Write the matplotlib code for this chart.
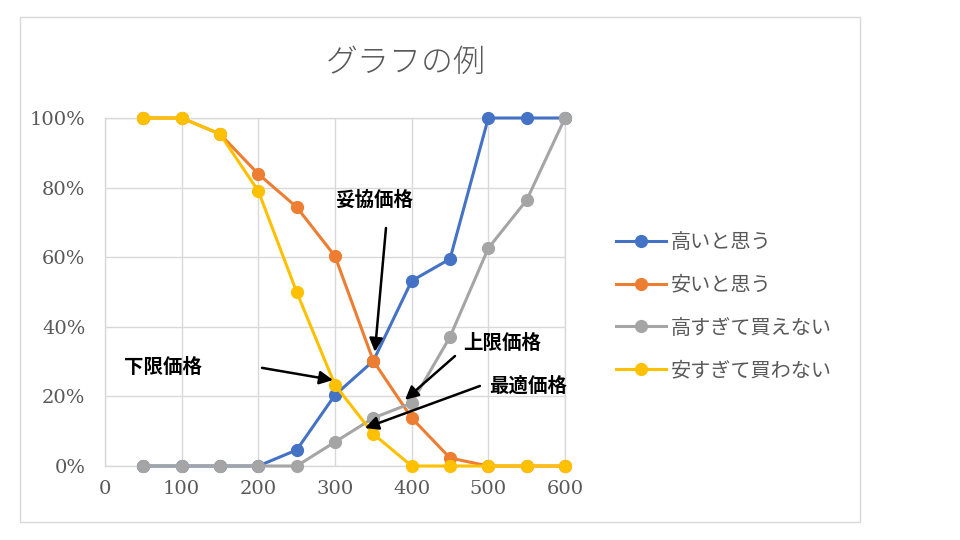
import matplotlib
matplotlib.use("Agg")
import matplotlib.pyplot as plt
from matplotlib.patches import Rectangle
from matplotlib.ticker import PercentFormatter

# ── Data ──────────────────────────────────────────────────────────────────────
prices = [50, 100, 150, 200, 250, 300, 350, 400, 450, 500, 550, 600]

too_high_label = "高いと思う"
too_high = [0, 0, 0, 0, 4.6, 20.4, 30.2, 53.2, 59.5, 100, 100, 100]

cheap_label = "安いと思う"
cheap = [100, 100, 95.4, 83.9, 74.4, 60.3, 30.2, 13.8, 2.3, 0, 0, 0]

expensive_label = "高すぎて買えない"
expensive = [0, 0, 0, 0, 0, 6.9, 13.8, 18.1, 37.1, 62.6, 76.4, 100]

too_cheap_label = "安すぎて買わない"
too_cheap = [100, 100, 95.4, 79.0, 50.0, 23.3, 9.2, 0, 0, 0, 0, 0]

x_ticks = [0, 100, 200, 300, 400, 500, 600]
y_ticks = [0, 20, 40, 60, 80, 100]

COLORS = ["#4472C4", "#ED7D31", "#A5A5A5", "#FFC000"]
JP = ["Noto Sans CJK JP", "DejaVu Sans"]
GRID = "#D9D9D9"
TEXT = "#595959"

fig = plt.figure(figsize=(9.6, 5.4), dpi=100)
fig.patch.set_facecolor("white")

# chart-area frame
fig.patches.append(Rectangle((20 / 960, 18 / 540), 840 / 960, 505 / 540,
                             transform=fig.transFigure, fill=False,
                             edgecolor=GRID, linewidth=1.0))

ax = fig.add_axes([105 / 960, 74 / 540, 460 / 960, 348 / 540])

series = [
    (too_high, too_high_label),
    (cheap, cheap_label),
    (expensive, expensive_label),
    (too_cheap, too_cheap_label),
]
for (vals, label), color in zip(series, COLORS):
    ax.plot(prices, vals, color=color, linewidth=2.2, marker="o",
            markersize=8.5, label=label, zorder=3, clip_on=False)

ax.set_xlim(0, 600)
ax.set_ylim(0, 100)
ax.set_xticks(x_ticks)
ax.set_yticks(y_ticks)
ax.yaxis.set_major_formatter(PercentFormatter(decimals=0))
ax.grid(True, color=GRID, linewidth=1.0, zorder=0)
for spine in ax.spines.values():
    spine.set_color(GRID)
    spine.set_linewidth(1.0)
ax.tick_params(length=0, labelsize=14, labelcolor=TEXT)
ax.tick_params(axis="y", pad=14)
ax.tick_params(axis="x", pad=10)
for lbl in ax.get_xticklabels() + ax.get_yticklabels():
    lbl.set_family("DejaVu Serif")

fig.text(406 / 960, 1 - 63 / 540, "グラフの例", family=JP, fontsize=23,
         color=TEXT, ha="center", va="center", fontweight="light")

leg = ax.legend(loc="upper left", bbox_to_anchor=(616 / 960, 1 - 232 / 540),
                bbox_transform=fig.transFigure, frameon=False,
                prop={"family": JP, "size": 14.5}, labelspacing=1.08,
                handlelength=2.5, handletextpad=0.2, borderaxespad=0,
                borderpad=0)
for t in leg.get_texts():
    t.set_color(TEXT)

# ── Annotations ───────────────────────────────────────────────────────────────
arrow = dict(arrowstyle="-|>", color="black", lw=1.8, mutation_scale=20,
             shrinkA=0, shrinkB=0)
bold = dict(family=JP, fontsize=14, fontweight="bold", color="black",
            ha="center", va="center")

ax.text(352, 76.4, "妥協価格", **bold)
ax.annotate("", xy=(352, 32.8), xytext=(366.5, 68.4), arrowprops=arrow)

ax.text(75.7, 28.4, "下限価格", **bold)
ax.annotate("", xy=(297.4, 24.7), xytext=(204.8, 28.2), arrowprops=arrow)

ax.text(517.8, 35.3, "上限価格", **bold)
ax.annotate("", xy=(391.3, 19.0), xytext=(456.5, 31.6), arrowprops=arrow)

ax.text(551.7, 23.0, "最適価格", **bold)
ax.annotate("", xy=(339, 10.9), xytext=(489, 23.0), arrowprops=arrow)

fig.savefig("out.png", dpi=100)
